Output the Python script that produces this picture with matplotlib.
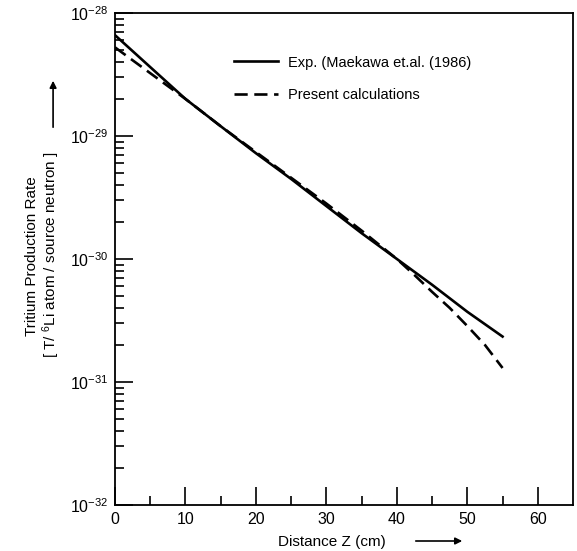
import numpy as np
import matplotlib
matplotlib.use("Agg")
import matplotlib.pyplot as plt

plt.rcParams["font.family"] = ["Liberation Sans", "DejaVu Sans"]
plt.rcParams["mathtext.fontset"] = "custom"
plt.rcParams["mathtext.rm"] = "Liberation Sans"
plt.rcParams["mathtext.it"] = "Liberation Sans"

# distance (cm)
z_exp = [0, 5, 10, 15, 20, 25, 30, 35, 40, 45, 50, 55]
# tritium production rate, Maekawa et al. (1986)
tpr_exp = [6.6e-29, 3.63e-29, 2.0e-29, 1.2e-29, 7.24e-30, 4.47e-30,
           2.69e-30, 1.62e-30, 1.0e-30, 6.17e-31, 3.72e-31, 2.34e-31]

z_calc = [0, 5, 10, 15, 20, 25, 30, 35, 40, 42.5, 45, 47.5, 50, 52.5, 55]
# present calculations
tpr_calc = [5.25e-29, 3.24e-29, 2.0e-29, 1.2e-29, 7.4e-30, 4.57e-30,
            2.82e-30, 1.7e-30, 1.0e-30, 7.4e-31, 5.4e-31, 4.0e-31,
            2.85e-31, 2.0e-31, 1.3e-31]

fig = plt.figure(figsize=(5.77, 5.51), dpi=100)
ax = fig.add_axes([0.1993, 0.0835, 0.7938, 0.893])

ax.plot(z_exp, tpr_exp, color="black", lw=1.9, label="Exp. (Maekawa et.al. (1986)")
ax.plot(z_calc, tpr_calc, color="black", lw=1.9, ls=(0, (5, 2.5)),
        label="Present calculations")

ax.set_yscale("log")
ax.set_xlim(0, 65)
ax.set_ylim(1e-32, 1e-28)
ax.set_xticks([0, 10, 20, 30, 40, 50, 60])
ax.set_xticks([5, 15, 25, 35, 45, 55], minor=True)
ax.set_yticks([1e-32, 1e-31, 1e-30, 1e-29, 1e-28])
ax.set_yticklabels([r"$10^{-32}$", r"$10^{-31}$", r"$10^{-30}$",
                    r"$10^{-29}$", r"$10^{-28}$"])
ax.yaxis.set_minor_locator(matplotlib.ticker.LogLocator(base=10, subs=np.arange(2, 10)))
ax.yaxis.set_minor_formatter(matplotlib.ticker.NullFormatter())

ax.tick_params(which="both", direction="in", top=False, right=False,
               width=1.2, labelsize=11.5)
ax.tick_params(which="major", length=13, pad=5)
ax.tick_params(which="minor", length=6.5)
for s in ax.spines.values():
    s.set_linewidth(1.3)

ax.legend(loc="upper left", bbox_to_anchor=(0.231, 0.94), frameon=False,
          fontsize=10.5, handlelength=3.0, handletextpad=0.7, labelspacing=1.27)

# axis titles with arrows
fig.text(0.055, 0.535, "Tritium Production Rate", rotation=90,
         ha="center", va="center", fontsize=11)
fig.text(0.088, 0.538, r"[ T/ $^{6}$Li atom / source neutron ]", rotation=90,
         ha="center", va="center", fontsize=11)
fig.text(0.575, 1 - 542 / 551, "Distance Z (cm)", ha="center", va="center", fontsize=11)

fig.add_artist(matplotlib.patches.FancyArrowPatch(
    (0.092, 1 - 130 / 551), (0.092, 1 - 78 / 551), transform=fig.transFigure,
    arrowstyle="-|>,head_length=4,head_width=2", color="black", lw=1.2))
fig.add_artist(matplotlib.patches.FancyArrowPatch(
    (413 / 577, 1 - 541 / 551), (465 / 577, 1 - 541 / 551), transform=fig.transFigure,
    arrowstyle="-|>,head_length=4,head_width=2", color="black", lw=1.2))

fig.savefig("out.png", dpi=100)
